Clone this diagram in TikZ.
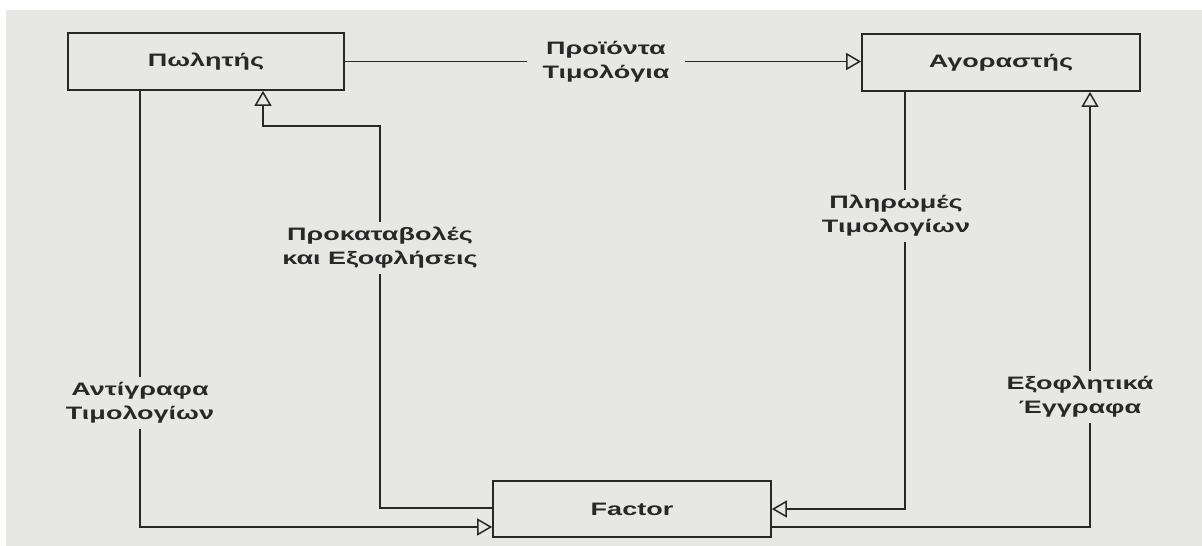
\documentclass[tikz,border=0pt]{standalone}
\usepackage{fontspec}
\setmainfont{Liberation Sans}[FakeStretch=1.5]
\usetikzlibrary{arrows.meta}
\definecolor{bg}{RGB}{231,231,229}
\definecolor{ink}{RGB}{40,40,40}
\tikzset{
  box/.style={draw=ink, line width=1.7pt, rectangle, inner sep=0pt, text=ink,
    font=\bfseries\fontsize{18}{24}\selectfont},
  lbl/.style={align=center, inner xsep=2pt, inner ysep=5pt, text=ink,
    font=\bfseries\fontsize{18}{24}\selectfont},
  wire/.style={draw=ink, line width=1.6pt},
  arr/.style={wire, -{Triangle[open, length=15pt, width=17pt, line width=1.5pt]}}
}
\begin{document}
\begin{tikzpicture}[x=1pt,y=-1pt]
\useasboundingbox (0,0) rectangle (1202,546);
\fill[white] (0,0) rectangle (1202,546);
\fill[bg] (6,10) rectangle (1202,546);
% boxes
\node[box, minimum width=276pt, minimum height=57pt] (pol) at (206,61.5) {Πωλητής};
\node[box, minimum width=278pt, minimum height=57pt] (ago) at (1001,62.5) {Αγοραστής};
\node[box, minimum width=278pt, minimum height=56pt] (fac) at (632,509) {Factor};
% labels
\node[lbl, inner xsep=15pt] (l1) at (606,62) {Προϊόντα\\Τιμολόγια};
\node[lbl] (l2) at (140,403) {Αντίγραφα\\Τιμολογίων};
\node[lbl] (l3) at (380,248) {Προκαταβολές\\και Εξοφλήσεις};
\node[lbl] (l4) at (896,216) {Πληρωμές\\Τιμολογίων};
\node[lbl] (l5) at (1080,397) {Εξοφλητικά\\Έγγραφα};
% helper coordinates
\coordinate (k3) at (263,126);
\coordinate (k4) at (905,0);
\coordinate (k5) at (1090,0);
% connectors
\draw[wire] (pol.east) -- (l1.west |- pol.east);
\draw[arr] (l1.east |- pol.east) -- (ago.west |- pol.east);
\draw[wire] (pol.south -| l2) -- (l2.north);
\draw[arr] (l2.south) |- ([yshift=-18pt]fac.west);
\draw[wire] ([yshift=1pt]fac.west) -| (l3.south);
\draw[arr] (l3.north) |- (k3) -- (k3 |- pol.south);
\draw[wire] (ago.south -| k4) -- (k4 |- l4.north);
\draw[arr] (k4 |- l4.south) |- (fac.east);
\draw[wire] ([yshift=-18pt]fac.east) -| (k5 |- l5.south);
\draw[arr] (k5 |- l5.north) -- (k5 |- ago.south);
\end{tikzpicture}
\end{document}
